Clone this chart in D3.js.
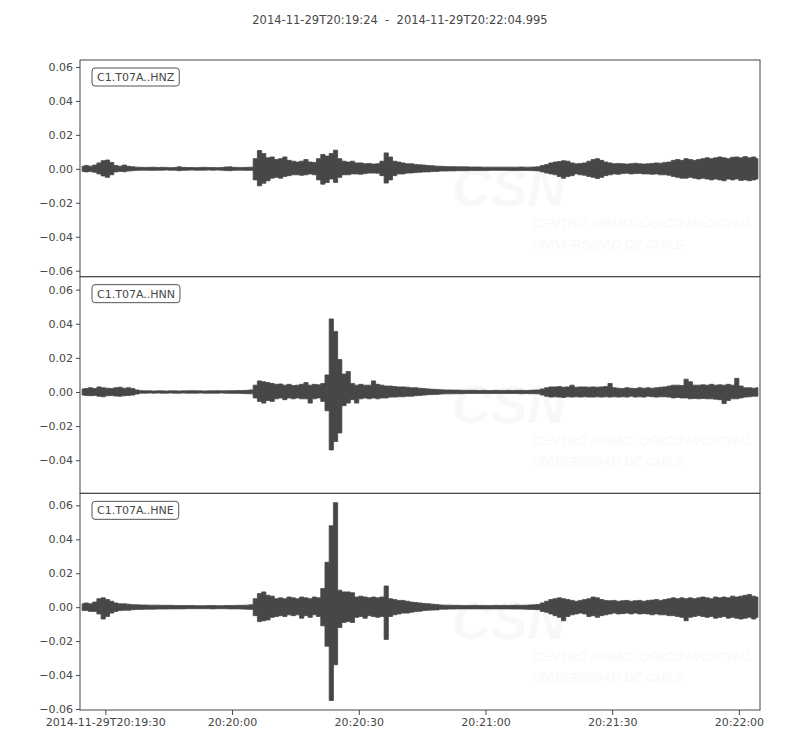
<!DOCTYPE html>
<html>
<head>
<meta charset="utf-8">
<script src="https://cdn.jsdelivr.net/npm/d3@7"></script>
<style>
  body { margin: 0; background: #fff; }
  svg { font-family: "DejaVu Sans", sans-serif; }
</style>
</head>
<body>
<svg id="chart" width="800" height="750"></svg>
<script>
// trace names and time window
const traceIds = ["C1.T07A..HNZ", "C1.T07A..HNN", "C1.T07A..HNE"];
const startTime = "2014-11-29T20:19:24";
const endTime = "2014-11-29T20:22:04.995";
const xTickTimes = ["2014-11-29T20:19:30", "2014-11-29T20:20:00", "2014-11-29T20:20:30",
                    "2014-11-29T20:21:00", "2014-11-29T20:21:30", "2014-11-29T20:22:00"];
const yTicks = [-0.06, -0.04, -0.02, 0.0, 0.02, 0.04, 0.06];
const yLimits = [[-0.0635, 0.0641], [-0.0594, 0.0676], [-0.0606, 0.0671]];

// per-second envelope (max / min) of each trace, units of 1e-3
const hnzMax = [1.5,2.0,1.6,2.2,3.5,4.8,5.2,3.8,2.0,1.6,2.2,1.5,1.2,
  1.0,0.9,0.8,0.9,1.0,0.8,0.9,0.8,0.7,0.8,1.2,0.9,0.8,0.8,0.7,0.8,0.9,0.8,0.8,0.7,0.8,1.1,1.2,0.9,0.8,0.8,0.9,1.0,
  6.0,10.8,9.0,6.5,7.0,5.5,6.0,7.0,5.0,4.5,4.0,4.5,5.5,4.0,3.8,6.0,8.5,7.5,9.0,11.0,6.0,4.5,4.0,4.5,3.5,3.5,3.0,3.2,2.8,3.0,
  4.5,9.4,7.0,4.5,4.0,3.5,3.0,3.0,2.6,2.4,2.2,2.0,1.8,1.6,
  1.5,1.4,1.3,1.3,1.2,1.2,1.2,1.1,1.1,1.1,1.0,1.0,1.0,1.0,1.0,1.0,1.0,1.0,1.0,1.1,1.0,1.0,1.1,1.2,
  2.0,2.5,3.5,4.0,4.3,4.8,4.5,3.5,3.0,3.2,3.5,4.5,5.5,6.0,5.0,4.0,3.5,3.0,3.2,3.0,2.8,3.0,3.3,3.0,2.8,3.0,3.2,3.5,3.3,3.8,4.0,
  5.0,5.5,5.0,6.0,5.5,5.0,5.5,6.0,6.5,6.0,6.5,7.0,6.5,6.0,6.8,7.0,6.5,7.2,6.5,7.0,6.0];
const hnzMin = [-1.5,-1.8,-1.6,-2.0,-3.0,-4.2,-5.0,-3.5,-1.8,-1.5,-1.7,-1.3,-1.1,
  -0.9,-0.8,-0.8,-0.9,-0.9,-0.8,-0.8,-0.7,-0.8,-0.8,-1.1,-0.9,-0.8,-0.7,-0.8,-0.8,-0.8,-0.7,-0.8,-0.7,-0.8,-1.0,-1.1,-0.9,-0.8,-0.8,-0.9,-0.9,
  -6.5,-10.0,-8.5,-7.0,-5.5,-5.0,-5.5,-4.5,-4.0,-3.5,-3.5,-3.8,-3.5,-3.0,-3.5,-6.5,-9.0,-8.0,-6.0,-8.0,-5.0,-3.5,-3.5,-3.0,-3.0,-3.2,-2.8,-2.5,-2.5,-2.6,
  -4.0,-8.4,-6.5,-4.0,-3.0,-3.0,-2.5,-2.4,-2.2,-2.0,-1.8,-1.8,-1.6,-1.5,
  -1.3,-1.3,-1.2,-1.2,-1.1,-1.1,-1.1,-1.0,-1.0,-1.0,-1.0,-1.0,-0.9,-0.9,-0.9,-0.9,-1.0,-1.0,-1.0,-1.0,-1.0,-1.0,-1.1,-1.2,
  -1.8,-2.5,-3.0,-3.5,-4.5,-5.5,-4.5,-4.0,-3.0,-3.5,-3.8,-4.5,-5.0,-5.7,-5.0,-4.0,-3.5,-3.0,-3.2,-2.8,-2.6,-3.0,-2.8,-2.7,-3.0,-3.0,-3.2,-3.0,-3.5,-3.5,-3.8,
  -4.5,-5.0,-5.5,-5.5,-5.0,-5.5,-6.0,-5.5,-6.0,-6.5,-6.0,-6.5,-7.0,-6.0,-6.5,-6.0,-6.8,-6.5,-7.0,-6.5,-6.0];

const hnnMax = [1.8,2.0,2.5,2.0,3.0,2.5,2.2,2.0,2.5,2.8,2.2,2.5,2.0,1.2,
  0.8,0.7,0.7,0.6,0.7,0.7,0.6,0.7,0.7,0.6,0.7,0.7,0.8,0.7,0.7,0.6,0.7,0.7,0.8,0.7,0.7,0.8,0.8,0.9,0.9,1.0,1.2,
  4.0,6.5,6.0,5.5,5.0,4.5,4.7,4.0,4.5,3.8,4.0,4.5,5.5,4.0,4.5,4.2,5.0,10.0,42.8,35.5,19.0,10.5,12.0,5.0,4.0,4.5,4.0,4.0,6.5,4.5,
  4.0,3.5,3.5,3.2,3.0,3.0,2.8,2.5,2.5,2.2,2.0,1.8,1.6,1.5,
  1.3,1.2,1.2,1.1,1.1,1.0,1.0,1.0,1.0,0.9,1.0,0.9,0.9,1.0,0.9,0.9,1.0,0.9,1.0,1.0,0.9,1.0,1.1,1.2,
  1.8,2.5,3.0,3.0,3.2,2.8,3.0,4.0,2.8,3.0,3.0,2.8,3.0,2.8,3.0,3.2,5.0,2.5,2.2,2.0,2.5,2.2,2.0,2.5,2.2,2.5,2.2,2.5,2.8,3.0,3.5,
  4.0,4.0,3.8,7.5,6.0,4.0,4.0,4.2,4.0,4.5,4.0,4.2,4.0,4.5,4.0,8.0,3.5,2.5,2.5,2.2,2.5];
const hnnMin = [-1.8,-2.0,-2.2,-2.0,-2.5,-2.8,-2.2,-2.0,-2.4,-2.5,-2.2,-2.0,-1.8,-1.2,
  -0.7,-0.7,-0.6,-0.7,-0.6,-0.7,-0.7,-0.6,-0.7,-0.7,-0.6,-0.7,-0.7,-0.7,-0.6,-0.7,-0.7,-0.7,-0.7,-0.6,-0.7,-0.8,-0.8,-0.8,-0.9,-1.0,-1.1,
  -3.5,-5.5,-6.5,-5.0,-5.5,-4.0,-3.5,-4.5,-3.5,-4.0,-3.5,-4.0,-4.0,-6.5,-4.0,-3.5,-5.5,-11.0,-34.0,-29.0,-24.0,-8.0,-6.5,-4.5,-6.5,-4.0,-3.5,-4.0,-3.5,-4.0,
  -3.5,-3.5,-3.0,-3.0,-2.8,-2.8,-2.5,-2.5,-2.2,-2.0,-1.8,-1.6,-1.5,-1.4,
  -1.2,-1.1,-1.1,-1.0,-1.0,-1.0,-0.9,-0.9,-0.9,-0.9,-0.9,-0.9,-0.9,-0.9,-0.9,-0.9,-0.9,-0.9,-0.9,-1.0,-0.9,-1.0,-1.0,-1.1,
  -1.8,-2.5,-3.0,-2.8,-3.0,-3.2,-2.8,-3.0,-2.8,-3.0,-2.8,-3.0,-3.0,-2.8,-3.0,-2.8,-3.0,-2.8,-3.0,-2.8,-3.0,-2.5,-3.0,-2.8,-3.0,-2.5,-2.8,-3.0,-2.8,-2.8,-3.0,
  -3.5,-3.2,-3.5,-3.5,-4.0,-3.8,-4.0,-3.8,-4.0,-4.0,-4.2,-4.5,-6.8,-5.0,-4.0,-4.0,-3.5,-3.0,-2.8,-2.5,-2.5];

const hneMax = [2.0,2.5,2.0,3.0,5.0,5.5,4.5,3.5,2.5,2.0,2.0,1.8,1.5,
  1.4,1.3,1.3,1.2,1.2,1.2,1.1,1.1,1.1,1.0,1.0,1.0,1.0,1.0,0.9,0.9,0.9,1.0,1.0,0.9,0.9,1.0,1.0,1.0,1.1,1.1,1.2,1.4,
  5.0,8.0,9.0,7.0,6.5,5.0,5.5,5.0,6.0,5.5,5.0,6.0,5.5,5.0,6.0,5.5,11.0,26.5,48.0,61.6,10.0,9.0,9.0,8.5,6.0,6.5,6.0,5.5,6.0,5.5,
  6.0,12.5,5.0,4.5,4.0,4.0,3.5,3.0,2.8,2.5,2.2,2.0,1.8,1.6,
  1.3,1.2,1.2,1.1,1.1,1.0,1.0,1.0,1.1,1.0,1.0,1.0,1.0,1.1,1.0,1.1,1.0,1.1,1.2,1.1,1.2,1.3,1.4,1.6,
  2.5,3.5,4.5,5.0,5.5,5.0,4.5,4.0,3.5,4.0,4.5,5.0,6.0,5.5,4.5,4.0,3.8,4.0,3.5,3.8,4.0,3.5,3.8,4.0,3.5,4.0,4.2,4.5,4.0,4.5,5.0,
  5.5,5.0,5.5,5.0,5.5,5.0,5.5,6.0,5.5,5.0,6.0,5.5,6.0,5.5,6.5,6.0,6.5,7.0,7.5,6.5,6.0];
const hneMin = [-2.0,-2.0,-2.5,-2.5,-4.0,-7.0,-5.5,-3.5,-2.5,-2.0,-1.8,-1.8,-1.5,
  -1.3,-1.3,-1.2,-1.2,-1.2,-1.1,-1.1,-1.1,-1.0,-1.0,-1.0,-1.0,-0.9,-0.9,-0.9,-0.9,-0.9,-0.9,-1.0,-0.9,-0.9,-0.9,-1.0,-1.0,-1.0,-1.1,-1.2,-1.3,
  -5.0,-8.5,-8.0,-7.5,-6.0,-5.5,-5.0,-5.5,-4.5,-5.0,-4.5,-6.5,-5.0,-6.0,-4.5,-5.5,-11.0,-23.0,-55.0,-34.0,-12.0,-9.0,-8.5,-9.0,-6.0,-5.5,-6.5,-5.0,-5.5,-6.0,
  -5.5,-19.0,-5.5,-4.5,-4.0,-3.5,-3.5,-3.0,-2.6,-2.4,-2.0,-1.8,-1.7,-1.6,
  -1.2,-1.2,-1.1,-1.1,-1.0,-1.0,-1.0,-1.0,-1.0,-1.0,-1.0,-1.0,-1.0,-1.0,-1.0,-1.0,-1.0,-1.1,-1.1,-1.1,-1.2,-1.3,-1.4,-1.5,
  -2.5,-3.0,-4.0,-5.0,-6.0,-8.0,-5.5,-4.5,-4.0,-3.5,-4.0,-5.5,-5.0,-6.0,-5.0,-4.5,-4.0,-3.5,-4.0,-3.8,-3.5,-4.0,-3.5,-4.0,-3.8,-4.0,-4.5,-4.0,-4.5,-4.5,-5.0,
  -5.0,-5.5,-6.0,-8.0,-6.0,-5.5,-5.0,-5.5,-6.0,-5.5,-6.5,-6.0,-5.5,-6.5,-6.0,-6.5,-7.0,-6.5,-6.0,-7.0,-6.0];

const envelopes = [[hnzMax, hnzMin], [hnnMax, hnnMin], [hneMax, hneMin]];

const ink = "#474747";
const plotLeft = 80, plotRight = 760, plotTop = 60, plotBottom = 710;
const panelH = (plotBottom - plotTop) / traceIds.length;

const svg = d3.select("#chart");
const t0 = new Date(startTime + "Z");
const t1 = new Date(endTime + "Z");

let x = d3.scaleUtc().domain([t0, t1]).range([plotLeft, plotRight]);

// title
svg.append("text")
    .attr("x", 400).attr("y", 24)
    .attr("text-anchor", "middle")
    .attr("font-size", "11.5px")
    .attr("fill", ink)
    .style("white-space", "pre")
    .text(startTime + "  -  " + endTime);

traceIds.forEach(function (id, i) {
    let y0 = plotTop + i * panelH;
    let y = d3.scaleLinear().domain(yLimits[i]).range([y0 + panelH, y0]);
    let g = svg.append("g");

    g.append("clipPath").attr("id", "clip" + i)
        .append("rect")
        .attr("x", plotLeft).attr("y", y0)
        .attr("width", plotRight - plotLeft).attr("height", panelH);

    // faint CSN watermark
    let wm = g.append("g").attr("fill", "#f8f8f8").attr("font-style", "italic")
        .attr("font-family", "Liberation Sans");
    wm.append("text").attr("x", 452).attr("y", y0 + 146)
        .attr("font-size", "54px").attr("font-weight", "bold")
        .text("CSN");
    wm.append("text").attr("x", 532).attr("y", y0 + 168)
        .attr("font-size", "13px")
        .text("CENTRO SISMOLÓGICO NACIONAL");
    wm.append("text").attr("x", 532).attr("y", y0 + 189)
        .attr("font-size", "13px")
        .text("UNIVERSIDAD DE CHILE");

    // min/max band per second, as the waveform is drawn at this scale
    let maxs = envelopes[i][0], mins = envelopes[i][1];
    let bins = maxs.map((v, k) => ({
        t: new Date(t0.getTime() + (k + 0.5) * 1000),
        hi: v * 1e-3,
        lo: mins[k] * 1e-3
    }));

    let band = d3.area()
        .x(d => x(d.t))
        .y0(d => y(d.lo))
        .y1(d => y(d.hi))
        .curve(d3.curveStep);
    g.append("path")
        .datum(bins)
        .attr("clip-path", "url(#clip" + i + ")")
        .attr("d", band)
        .attr("fill", ink)
        .attr("stroke", ink)
        .attr("stroke-width", 0.8);

    // y axis
    let yAxis = d3.axisLeft(y)
        .tickValues(yTicks.filter(v => v >= yLimits[i][0] && v <= yLimits[i][1]))
        .tickFormat(d3.format(".2f"))
        .tickSize(4).tickPadding(3);
    let ya = g.append("g").attr("transform", "translate(" + plotLeft + ",0)").call(yAxis);
    ya.select(".domain").remove();
    ya.selectAll("line").attr("stroke", ink);
    ya.selectAll("text").attr("fill", ink).attr("font-size", "11px")
        .attr("font-family", "DejaVu Sans");

    // frame
    g.append("rect")
        .attr("x", plotLeft).attr("y", y0)
        .attr("width", plotRight - plotLeft).attr("height", panelH)
        .attr("fill", "none").attr("stroke", ink).attr("stroke-width", 1);

    // station label
    let lbl = g.append("g").attr("transform", "translate(92," + (y0 + 8) + ")");
    let txt = lbl.append("text").attr("x", 5).attr("y", 13)
        .attr("font-size", "11px").attr("fill", ink).text(id);
    let w = txt.node().getComputedTextLength();
    lbl.insert("rect", "text")
        .attr("width", w + 10).attr("height", 18)
        .attr("rx", 3).attr("ry", 3)
        .attr("fill", "#fff").attr("stroke", "#555").attr("stroke-width", 1);

    if (i === traceIds.length - 1) {
        let fmtFirst = d3.utcFormat("%Y-%m-%dT%H:%M:%S");
        let fmt = d3.utcFormat("%H:%M:%S");
        let ticks = xTickTimes.map(s => new Date(s + "Z"));
        let xAxis = d3.axisBottom(x)
            .tickValues(ticks)
            .tickFormat((d, k) => k === 0 ? fmtFirst(d) : fmt(d))
            .tickSize(5).tickPadding(3);
        let xa = g.append("g").attr("transform", "translate(0," + plotBottom + ")").call(xAxis);
        xa.select(".domain").remove();
        xa.selectAll("line").attr("stroke", ink);
        xa.selectAll("text").attr("fill", ink).attr("font-size", "11px")
            .attr("font-family", "DejaVu Sans");
    }
});
</script>
</body>
</html>
